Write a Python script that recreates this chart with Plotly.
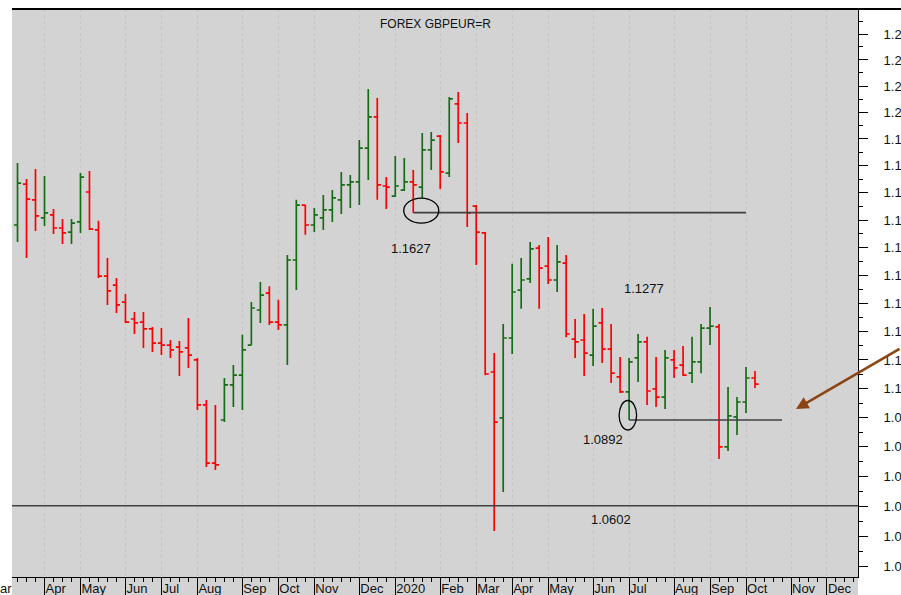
import math
import pandas as pd
import plotly.graph_objects as go

# ---------------- data (weekly bars, Friday dated) ----------------
dates = list(pd.date_range("2019-03-15", periods=83, freq="W-FRI"))

opens = [1.1582, 1.1732, 1.1674, 1.1608, 1.1619, 1.1571, 1.1556, 1.1593, 1.1703, 1.1564,
         1.1397, 1.1365, 1.1304, 1.1244, 1.1233, 1.1209, 1.1159, 1.1152, 1.1145, 1.1142,
         1.1100, 1.0944, 1.0745, 1.0892, 1.1013, 1.1047, 1.1152, 1.1276, 1.1336, 1.1233,
         1.1223, 1.1455, 1.1655, 1.1582, 1.1608, 1.1637, 1.1674, 1.1729, 1.1740, 1.1866,
         1.1983, 1.1725, 1.1688, 1.1710, 1.1740, 1.1721, 1.1859, 1.1911, 1.1773, 1.2032,
         1.1960, 1.1651, 1.1553, 1.1058, 1.0899, 1.1177, 1.1347, 1.1387, 1.1498, 1.1433,
         1.1383, 1.1444, 1.1173, 1.1170, 1.1117, 1.1230, 1.1138, 1.1041, 1.0989, 1.1107,
         1.1163, 1.0999, 1.0971, 1.1100, 1.1082, 1.1054, 1.1093, 1.1212, 1.1216, 1.0800,
         1.0903, 1.0954, 1.1037]
highs = [1.1810, 1.1751, 1.1788, 1.1762, 1.1640, 1.1604, 1.1604, 1.1773, 1.1781, 1.1597,
         1.1462, 1.1390, 1.1333, 1.1269, 1.1269, 1.1216, 1.1212, 1.1170, 1.1166, 1.1248,
         1.1107, 1.0961, 1.0944, 1.1037, 1.1082, 1.1188, 1.1304, 1.1376, 1.1361, 1.1312,
         1.1473, 1.1674, 1.1655, 1.1644, 1.1692, 1.1710, 1.1777, 1.1766, 1.1896, 1.2089,
         1.2055, 1.1758, 1.1836, 1.1829, 1.1784, 1.1922, 1.1926, 1.1915, 1.2058, 1.2077,
         1.1998, 1.1655, 1.1556, 1.1124, 1.1226, 1.1441, 1.1462, 1.1520, 1.1509, 1.1538,
         1.1509, 1.1473, 1.1244, 1.1262, 1.1280, 1.1283, 1.1226, 1.1110, 1.1107, 1.1191,
         1.1181, 1.1110, 1.1135, 1.1135, 1.1149, 1.1181, 1.1226, 1.1287, 1.1226, 1.1006,
         1.0971, 1.1075, 1.1061]
lows = [1.1520, 1.1462, 1.1560, 1.1578, 1.1549, 1.1513, 1.1513, 1.1553, 1.1564, 1.1390,
        1.1294, 1.1265, 1.1230, 1.1191, 1.1142, 1.1128, 1.1117, 1.1107, 1.1044, 1.1072,
        1.0926, 1.0732, 1.0722, 1.0885, 1.0937, 1.0926, 1.1152, 1.1230, 1.1223, 1.1205,
        1.1082, 1.1347, 1.1546, 1.1556, 1.1564, 1.1593, 1.1622, 1.1644, 1.1655, 1.1747,
        1.1674, 1.1640, 1.1685, 1.1707, 1.1627, 1.1681, 1.1784, 1.1714, 1.1758, 1.1885,
        1.1575, 1.1437, 1.1047, 1.0518, 1.0648, 1.1121, 1.1280, 1.1372, 1.1280, 1.1369,
        1.1340, 1.1180, 1.1107, 1.1044, 1.1079, 1.1089, 1.1020, 1.0985, 1.0892, 1.1023,
        1.0944, 1.0937, 1.0930, 1.1037, 1.1044, 1.1020, 1.1054, 1.1152, 1.0759, 1.0786,
        1.0841, 1.0916, 1.1002]
closes = [1.1736, 1.1677, 1.1615, 1.1626, 1.1571, 1.1553, 1.1589, 1.1758, 1.1567, 1.1397,
          1.1344, 1.1294, 1.1233, 1.1230, 1.1209, 1.1159, 1.1152, 1.1135, 1.1128, 1.1117,
          1.0944, 1.0745, 1.0739, 1.1013, 1.1047, 1.1135, 1.1283, 1.1329, 1.1233, 1.1223,
          1.1455, 1.1655, 1.1582, 1.1619, 1.1637, 1.1681, 1.1729, 1.1740, 1.1866, 1.1983,
          1.1729, 1.1721, 1.1725, 1.1740, 1.1729, 1.1859, 1.1896, 1.1777, 1.2051, 1.1960,
          1.1626, 1.1556, 1.1051, 1.0885, 1.1177, 1.1340, 1.1383, 1.1495, 1.1426, 1.1383,
          1.1448, 1.1191, 1.1163, 1.1124, 1.1219, 1.1138, 1.1054, 1.0989, 1.1093, 1.1163,
          1.0992, 1.0971, 1.1107, 1.1072, 1.1047, 1.1093, 1.1212, 1.1219, 1.0800, 1.0906,
          1.0954, 1.1037, 1.1016]

# support / resistance levels: (value, start date, end date or None for full width)
level_values = [1.1627, 1.0892, 1.0602]
level_starts = ["2020-01-17", "2020-07-03", None]
level_ends = ["2020-10-02", "2020-10-30", None]
note_value = 1.1277

y_tick_values = [1.04, 1.05, 1.06, 1.07, 1.08, 1.09, 1.10, 1.11, 1.12, 1.13,
                 1.14, 1.15, 1.16, 1.17, 1.18, 1.19, 1.20, 1.21, 1.22, 1.23]
# labels as they are visible (cut short) in the original chart
y_tick_labels = ["1.0", "1.0", "1.0", "1.0", "1.0", "1.0", "1.1", "1.1", "1.1", "1.1",
                 "1.1", "1.1", "1.1", "1.1", "1.1", "1.1", "1.2", "1.2", "1.2", "1.2"]
y_minor_values = [1.045, 1.055, 1.065, 1.075, 1.085, 1.095, 1.105, 1.115, 1.125, 1.135,
                  1.145, 1.155, 1.165, 1.175, 1.185, 1.195, 1.205, 1.215, 1.225, 1.235]

# ---------------- helpers ----------------
t0 = dates[0]


def pos(d):
    return (pd.Timestamp(d) - t0).days / 7.0


idx = [pos(d) for d in dates]

all_weeks = pd.date_range("2019-03-01", "2020-12-31", freq="W-FRI")
week_pos = [pos(d) for d in all_weeks]
month_pos, month_lab = [], []
seen = set()
for d in all_weeks:
    key = (d.year, d.month)
    if key not in seen:
        seen.add(key)
        month_pos.append(pos(d))
        month_lab.append(str(d.year) if d.month == 1 else d.strftime("%b"))

x_range = [-0.614, 93.45]
y_range = [math.log10(1.03665), math.log10(1.23973)]
PLOT_W, PLOT_H = 846, 568


def xfrac(i):
    return (i - x_range[0]) / (x_range[1] - x_range[0])


def yfrac(v):
    return (math.log10(v) - y_range[0]) / (y_range[1] - y_range[0])


FONT = "Liberation Sans, Arial, sans-serif"
BG = "#d3d3d3"
GREEN = "#176d17"
RED = "#ff0000"
LINE = "#404040"

fig = go.Figure()
fig.add_trace(go.Ohlc(
    x=idx, open=opens, high=highs, low=lows, close=closes,
    increasing=dict(line=dict(color=GREEN, width=1.7)),
    decreasing=dict(line=dict(color=RED, width=1.7)),
    tickwidth=0.4, showlegend=False, hoverinfo="skip"))

for v, s, e in zip(level_values, level_starts, level_ends):
    xs = [pos(s), pos(e)] if s else x_range
    fig.add_trace(go.Scatter(x=xs, y=[v, v], mode="lines",
                             line=dict(color=LINE, width=1.6),
                             showlegend=False, hoverinfo="skip"))

# ellipses around the marked lows (sizes in pixels around the marked point)
for (v, s, dx0, dx1, dy0, dy1) in [(level_values[0], level_starts[0], -9.5, 25.5, -10.5, 14.5),
                                   (level_values[1], level_starts[1], -10, 7.5, -10, 19.5)]:
    cx, cy = xfrac(pos(s)), yfrac(v)
    fig.add_shape(type="circle", xref="paper", yref="paper",
                  x0=cx + dx0 / PLOT_W, x1=cx + dx1 / PLOT_W,
                  y0=cy + dy0 / PLOT_H, y1=cy + dy1 / PLOT_H,
                  line=dict(color="black", width=1.3))

# grey band behind x labels, top border line
fig.add_shape(type="rect", xref="paper", yref="paper", x0=0, x1=1, y0=-18 / PLOT_H, y1=0,
              fillcolor=BG, line=dict(width=0), layer="below")
fig.add_shape(type="line", xref="paper", yref="paper", x0=0, x1=1 + 43 / PLOT_W, y0=1, y1=1,
              line=dict(color="black", width=2))

ann_font = dict(family=FONT, size=13, color="#111")
fig.add_annotation(x=pos(level_starts[0]), y=math.log10(level_values[0]), text="1.1627",
                   showarrow=False, yshift=-36, xshift=-2, font=ann_font)
fig.add_annotation(x=pos("2020-07-17"), y=math.log10(note_value), text="1.1277",
                   showarrow=False, yshift=21, xshift=-3, font=ann_font)
fig.add_annotation(x=pos(level_starts[1]), y=math.log10(level_values[1]), text="1.0892",
                   showarrow=False, yshift=-19, xshift=-4, xanchor="right", font=ann_font)
fig.add_annotation(x=pos("2020-06-19"), y=math.log10(level_values[2]), text="1.0602",
                   showarrow=False, yshift=-14, font=ann_font)
fig.add_annotation(xref="paper", yref="paper", x=0.5, y=1, yanchor="top", yshift=-6,
                   text="FOREX GBPEUR=R", showarrow=False,
                   font=dict(family=FONT, size=12, color="#111"))
# clipped "Mar" label at the far left, as visible in the original
fig.add_annotation(xref="paper", yref="paper", x=-14 / PLOT_W, y=0, xanchor="left",
                   yanchor="top", yshift=-2, text="ar", showarrow=False, font=ann_font)
# brown arrow
fig.add_annotation(xref="paper", yref="paper", x=(796 - 12) / PLOT_W, y=(577 - 409) / PLOT_H,
                   ax=118, ay=-61, text="", showarrow=True, arrowhead=2, arrowsize=1,
                   arrowwidth=2.5, arrowcolor="#8B4513")

fig.update_layout(
    width=901, height=595,
    margin=dict(l=12, r=43, t=9, b=18),
    paper_bgcolor="white", plot_bgcolor=BG,
    font=dict(family=FONT, size=13, color="#111"),
    showlegend=False,
    xaxis=dict(
        range=x_range, rangeslider=dict(visible=False), fixedrange=True,
        tickmode="array", tickvals=month_pos, ticktext=month_lab,
        ticks="outside", ticklen=18, tickwidth=1, tickcolor="black",
        ticklabelposition="outside right", ticklabelstandoff=-1,
        tickfont=dict(family=FONT, size=13, color="#111"),
        showline=True, linecolor="black", linewidth=1,
        showgrid=True, gridcolor="#c4c4c4", griddash="dot", gridwidth=1,
        zeroline=False, automargin=False,
        minor=dict(tickmode="array", tickvals=week_pos, ticks="outside", ticklen=4,
                   tickcolor="black", tickwidth=1, showgrid=False),
    ),
    yaxis=dict(
        type="log", range=y_range, side="right", fixedrange=True,
        tickmode="array", tickvals=y_tick_values, ticktext=y_tick_labels,
        ticks="outside", ticklen=9, tickwidth=1, tickcolor="black",
        ticklabelstandoff=13,
        tickfont=dict(family=FONT, size=13, color="#111"),
        showline=True, linecolor="black", linewidth=1,
        showgrid=False, zeroline=False, automargin=False,
        minor=dict(tickmode="array", tickvals=y_minor_values, ticks="outside", ticklen=4,
                   tickcolor="black", tickwidth=1, showgrid=False),
    ),
)

fig.write_html("out.html", config={"displayModeBar": False, "staticPlot": True},
               post_script="document.body.style.margin='0';")
